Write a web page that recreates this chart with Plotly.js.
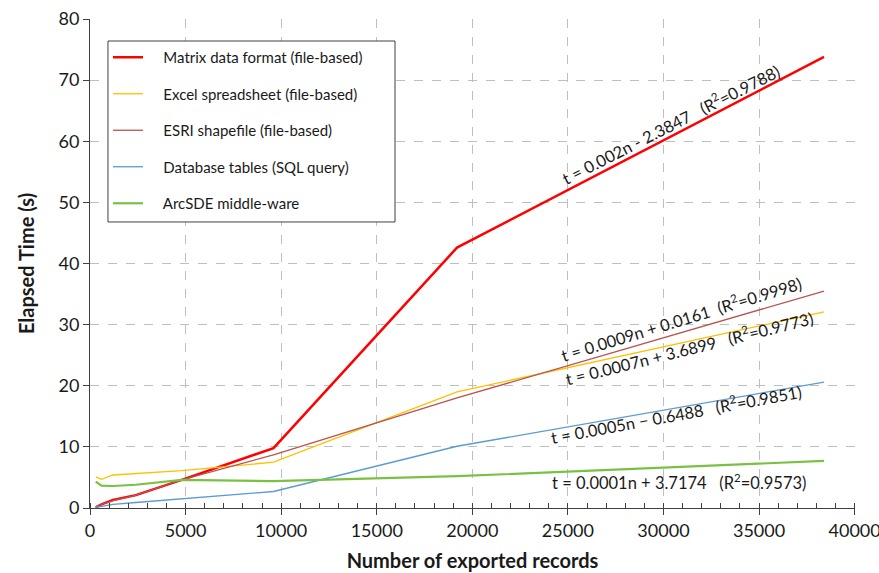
<!DOCTYPE html>
<html>
<head>
<meta charset="utf-8">
<script src="https://cdn.plot.ly/plotly-3.0.1.min.js"></script>
<style>
  html, body { margin: 0; padding: 0; background: #ffffff; }
  #chart { width: 879px; height: 573px; }
</style>
</head>
<body>
<div id="chart"></div>
<script>
// Number of exported records
const records = [300, 600, 1200, 2400, 4800, 9600, 19200, 38400];

// Elapsed time (s) per method
const matrixFile   = [0.1, 0.6, 1.3, 2.1, 4.6, 9.8, 42.6, 73.8];
const excelFile    = [5.1, 4.7, 5.4, 5.6, 6.1, 7.5, 19.0, 32.1];
const esriFile     = [0.1, 0.6, 1.2, 2.1, 4.6, 8.7, 18.0, 35.5];
const databaseSql  = [0.1, 0.3, 0.6, 0.9, 1.5, 2.7, 10.1, 20.6];
const arcSde       = [4.3, 3.65, 3.6, 3.8, 4.6, 4.4, 5.2, 7.7];

const seriesNames = [
  "Matrix data format (file-based)",
  "Excel spreadsheet (file-based)",
  "ESRI shapefile (file-based)",
  "Database tables (SQL query)",
  "ArcSDE middle-ware"
];

// Regression labels and their anchor positions (data coords)
const fitLabels = [
  "t = 0.002n - 2.3847&nbsp;&nbsp;&nbsp;(R<sup>2</sup>=0.9788)",
  "t = 0.0009n + 0.0161&nbsp;&nbsp;(R<sup>2</sup>=0.9998)",
  "t = 0.0007n + 3.6899&nbsp;&nbsp;&nbsp;(R<sup>2</sup>=0.9773)",
  "t = 0.0005n \u2212 0.6488&nbsp;&nbsp;&nbsp;(R<sup>2</sup>=0.9851)",
  "t = 0.0001n + 3.7174&nbsp;&nbsp;&nbsp;(R<sup>2</sup>=0.9573)"
];
const fitLabelX = [30400, 30900, 31350, 30700, 30830];
const fitLabelY = [62.8, 31.0, 26.2, 15.3, 4.25];
const fitLabelAngle = [-27, -17, -14, -10.5, 0];

const ys = [matrixFile, excelFile, esriFile, databaseSql, arcSde];
const colors = ["#ff0000", "#ffc000", "#b9524f", "#5b9bd5", "#7ac143"];
const widths = [2.5, 1.3, 1.3, 1.3, 2.2];

const FONT = "Lato, 'Open Sans', sans-serif";
const pad = (s) => "&nbsp;&nbsp;&nbsp;&nbsp;" + s;

const traces = ys.map((y, i) => ({
  x: records,
  y: y,
  type: "scatter",
  mode: "lines",
  name: pad(seriesNames[i]),
  legendgroup: "g" + i,
  line: { color: colors[i], width: widths[i] }
}));

const annotations = fitLabels.map((t, i) => ({
  x: fitLabelX[i],
  y: fitLabelY[i],
  xref: "x",
  yref: "y",
  text: t,
  showarrow: false,
  textangle: fitLabelAngle[i],
  font: { family: FONT, size: 16.5, color: "#1a1a1a" }
}));

const layout = {
  width: 879,
  height: 573,
  margin: { l: 90, r: 24, t: 19, b: 65 },
  paper_bgcolor: "#ffffff",
  plot_bgcolor: "#ffffff",
  font: { family: FONT, color: "#1a1a1a" },
  showlegend: true,
  legend: {
    x: 0.0235, y: 0.955, xanchor: "left", yanchor: "top",
    bgcolor: "rgba(0,0,0,0)",
    borderwidth: 0,
    font: { family: FONT, size: 15, color: "#1a1a1a" },
    tracegroupgap: 14
  },
  // legend frame
  shapes: [{
    type: "rect", xref: "paper", yref: "paper",
    x0: 0.0235, x1: 0.3987, y0: 0.5849, y1: 0.955,
    line: { color: "#404040", width: 1 },
    fillcolor: "#ffffff",
    layer: "above"
  }],
  xaxis: {
    range: [0, 40020],
    dtick: 5000,
    tick0: 0,
    tickformat: "d",
    showgrid: true,
    gridcolor: "#bfbfbf",
    griddash: "dash",
    gridwidth: 1,
    zeroline: false,
    showline: true,
    linecolor: "#404040",
    linewidth: 1,
    ticks: "outside",
    ticklen: 6,
    tickcolor: "#404040",
    ticklabeloverflow: "allow",
    tickfont: { family: FONT, size: 18, color: "#1a1a1a" },
    minor: { dtick: 1000, ticks: "inside", ticklen: 5, tickcolor: "#404040", showgrid: false },
    title: {
      text: "Number of exported records",
      font: { family: FONT, size: 20, weight: "bold", color: "#1a1a1a" },
      standoff: 14
    }
  },
  yaxis: {
    range: [0, 80],
    dtick: 10,
    showgrid: true,
    gridcolor: "#bfbfbf",
    griddash: "dash",
    gridwidth: 1,
    zeroline: false,
    showline: true,
    linecolor: "#404040",
    linewidth: 1,
    ticks: "outside",
    ticklen: 6,
    tickcolor: "#404040",
    tickfont: { family: FONT, size: 18, color: "#1a1a1a" },
    title: {
      text: "Elapsed Time (s)",
      font: { family: FONT, size: 20, weight: "bold", color: "#1a1a1a" },
      standoff: 18
    }
  },
  annotations: annotations
};

Plotly.newPlot("chart", traces, layout, { displayModeBar: false, responsive: false });
</script>
</body>
</html>
